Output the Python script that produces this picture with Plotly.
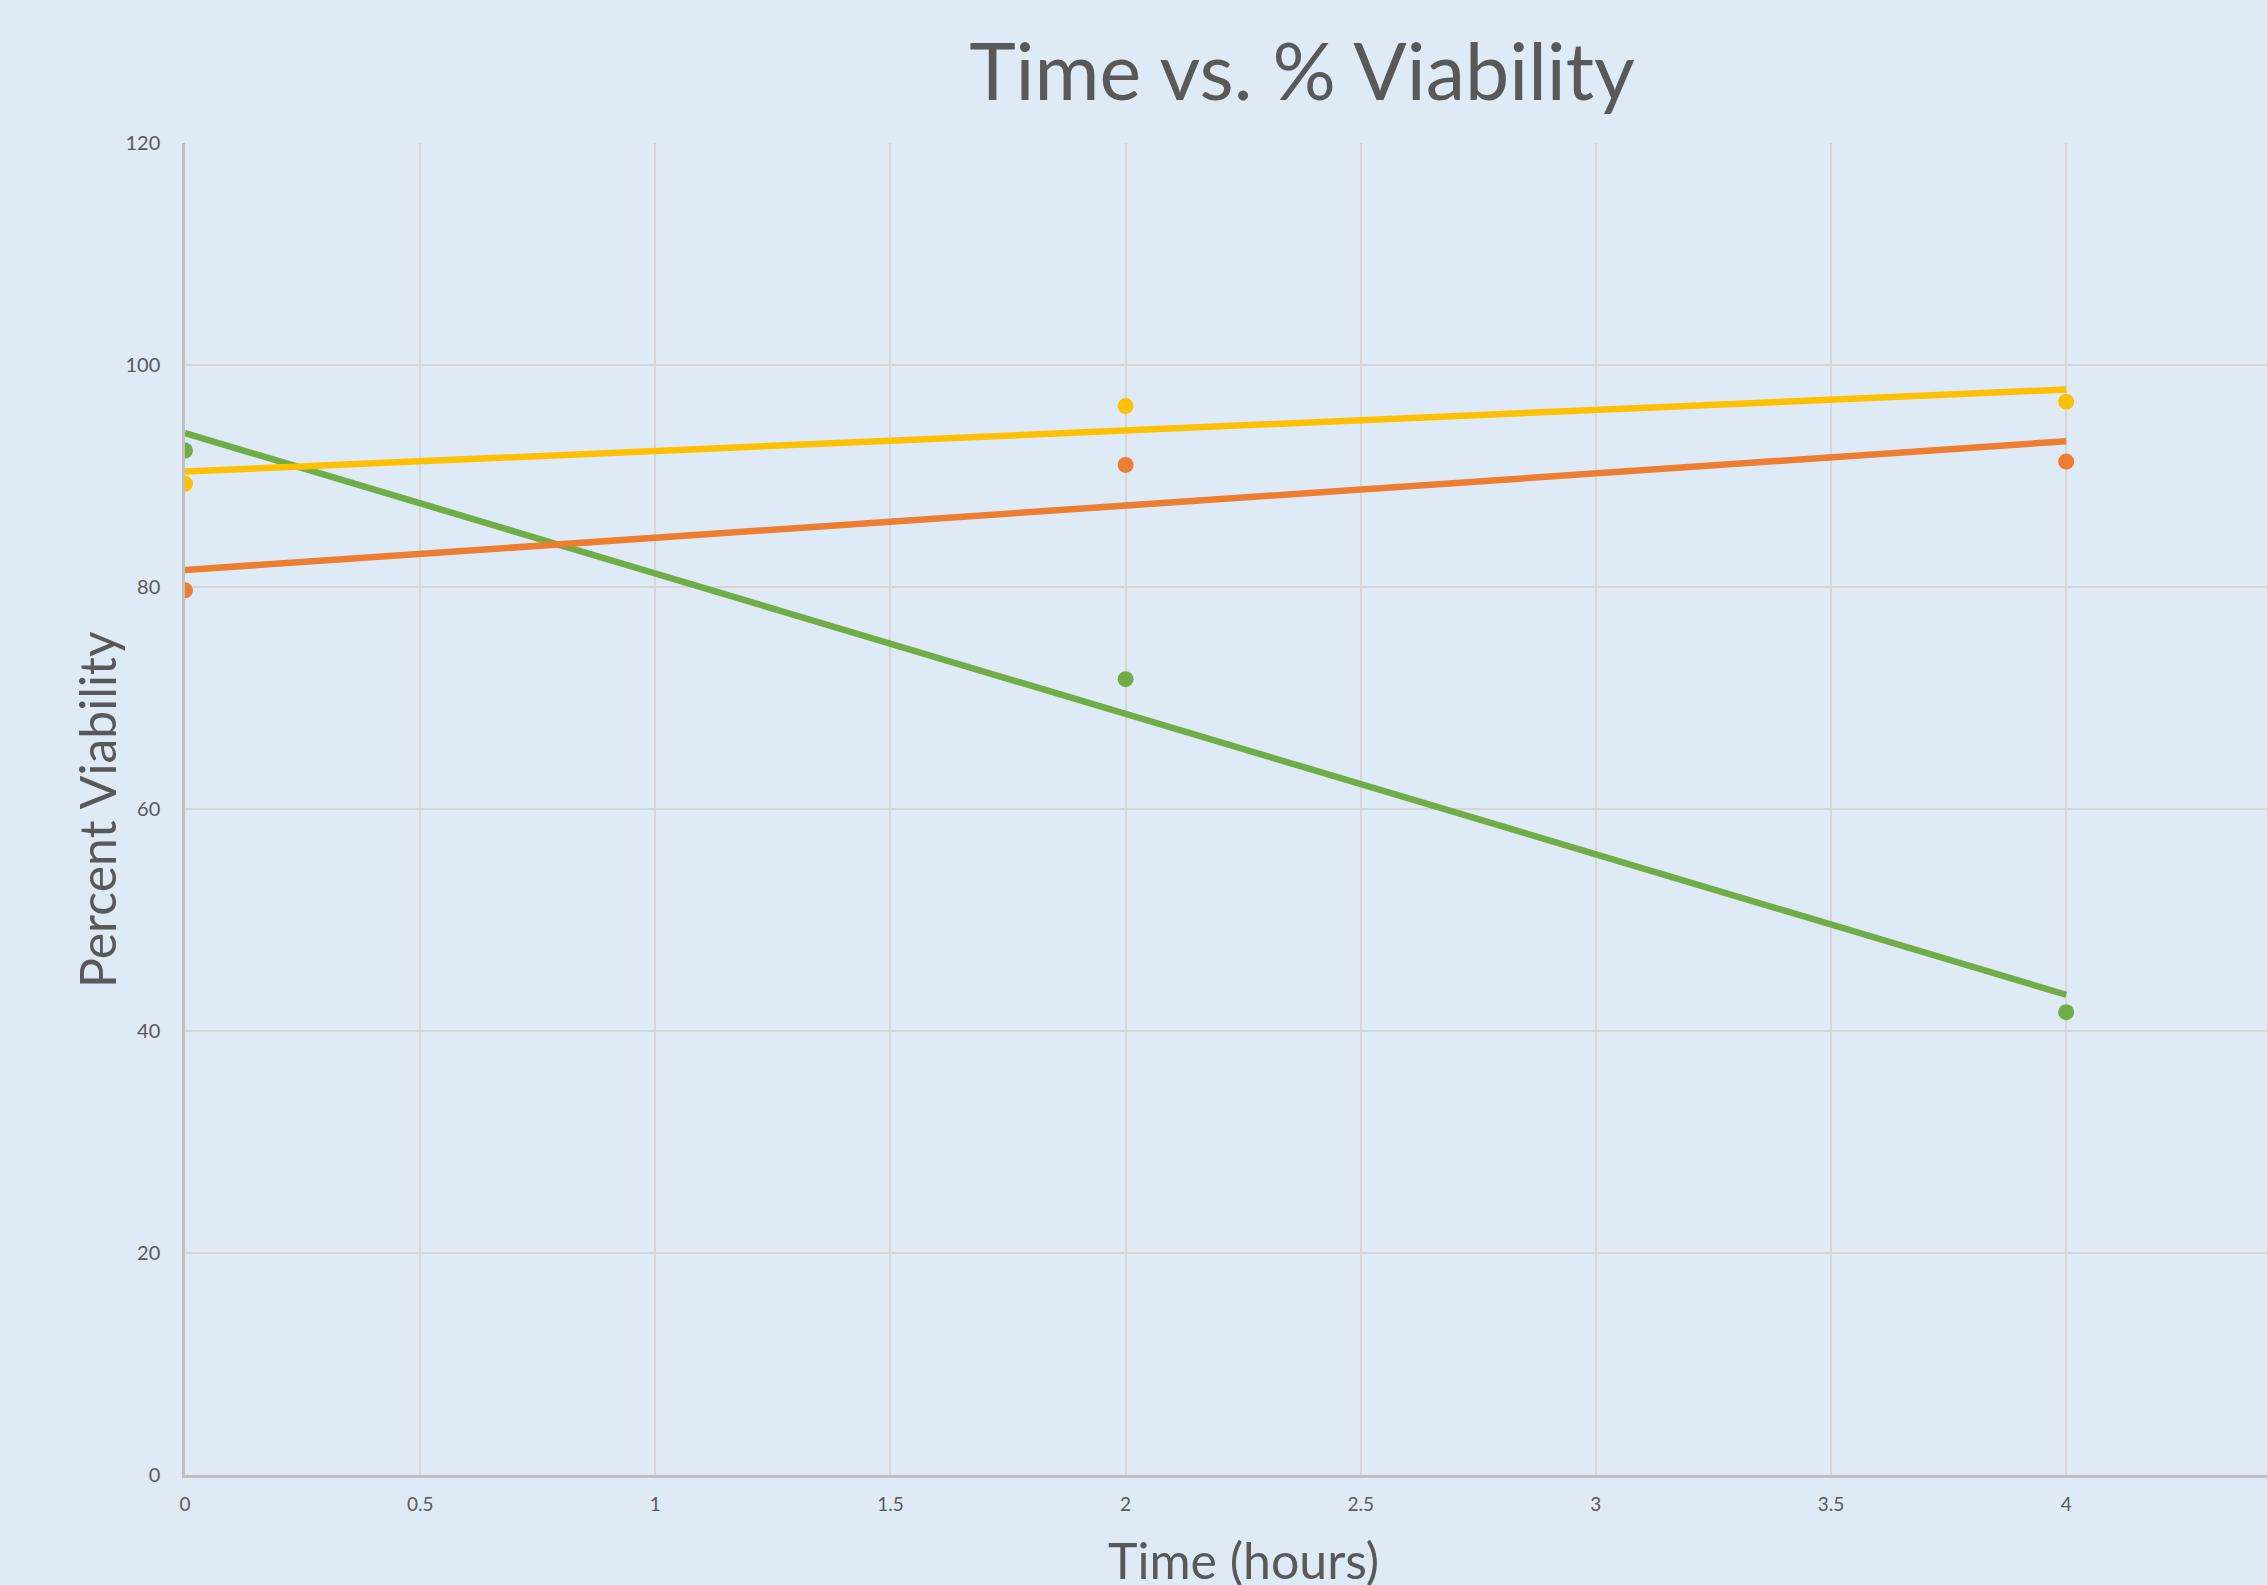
import numpy as np
import plotly.graph_objects as go

# Measured viability (%) at each time point
time_hours = [0, 2, 4]
viability_green = [92.3, 71.7, 41.7]
viability_yellow = [89.3, 96.3, 96.7]
viability_orange = [79.7, 91.0, 91.3]

x_ticks = [0, 0.5, 1, 1.5, 2, 2.5, 3, 3.5, 4]
y_ticks = [0, 20, 40, 60, 80, 100, 120]

series = [
    ("Green", viability_green, "#70AD47"),
    ("Yellow", viability_yellow, "#FFC000"),
    ("Orange", viability_orange, "#ED7D31"),
]

W, H = 2267, 1585
L, R, T, B = 185, 0, 143, 110
plot_w = W - L - R
plot_h = H - T - B

TEXT = "#595959"
FONT = "Lato"

fig = go.Figure()

# Linear trendlines fitted to each series
fit_x = np.array([min(time_hours), max(time_hours)], dtype=float)
for name, vals, color in series:
    slope, intercept = np.polyfit(time_hours, vals, 1)
    fig.add_trace(go.Scatter(
        x=fit_x, y=slope * fit_x + intercept, mode="lines",
        line=dict(color=color, width=6.5), name=name + " trend",
        showlegend=False, hoverinfo="skip",
    ))

# Data points
for name, vals, color in series:
    fig.add_trace(go.Scatter(
        x=time_hours, y=vals, mode="markers",
        marker=dict(color=color, size=16, line=dict(width=0)),
        name=name, showlegend=False,
    ))

def px_x(p):
    return (p - L) / plot_w

def px_y(p):
    return (H - B - p) / plot_h

fig.update_layout(
    width=W, height=H, autosize=False,
    margin=dict(l=L, r=R, t=T, b=B, pad=0),
    paper_bgcolor="#DEEBF7", plot_bgcolor="#DEEBF7",
    font=dict(family=FONT, color=TEXT),
    title=dict(
        text="Time vs. % Viability", xref="container", yref="container",
        x=1302 / W, y=1 - 72 / H, xanchor="center", yanchor="middle",
        font=dict(size=79, color=TEXT, family=FONT),
    ),
    xaxis=dict(
        range=[0, 4.427], tickvals=x_ticks, ticktext=[f"{v:g}" for v in x_ticks],
        showgrid=True, gridcolor="#D6D6D6", gridwidth=1.5,
        showline=True, linecolor="#BFBFBF", linewidth=2.5,
        zeroline=False, ticks="", ticklen=0,
        tickfont=dict(size=19, color=TEXT, family=FONT),
        ticklabelstandoff=10,
    ),
    yaxis=dict(
        range=[0, 120], tickvals=y_ticks,
        showgrid=True, gridcolor="#D6D6D6", gridwidth=1.5,
        showline=True, linecolor="#BFBFBF", linewidth=2.5,
        zeroline=False, ticks="", ticklen=0,
        tickfont=dict(size=20, color=TEXT, family=FONT),
        ticklabelstandoff=18,
    ),
    annotations=[
        dict(text="Percent Viability", xref="paper", yref="paper",
             x=px_x(97), y=px_y(810), xanchor="center", yanchor="middle",
             textangle=-90, showarrow=False,
             font=dict(size=50, color=TEXT, family=FONT)),
        dict(text="Time (hours)", xref="paper", yref="paper",
             x=px_x(1243), y=px_y(1528), xanchor="center", yanchor="top",
             showarrow=False,
             font=dict(size=50, color=TEXT, family=FONT)),
    ],
)

fig.write_html("out.html")
